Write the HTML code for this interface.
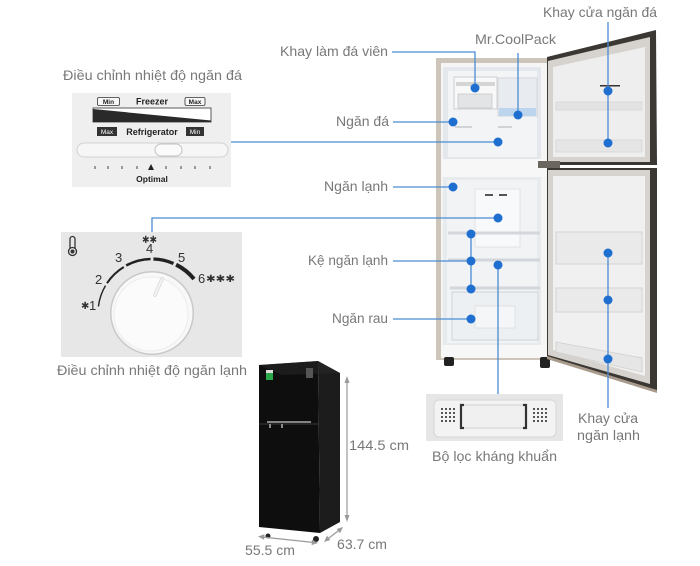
<!DOCTYPE html>
<html><head><meta charset="utf-8"><style>
html,body{margin:0;padding:0;background:#fff;}
svg{display:block;}
.t{font-family:"Liberation Sans",sans-serif;font-size:14px;fill:#787878;}
.l{stroke:#4a8cd4;stroke-width:1.3;fill:none;}
.d{fill:#1f6fd1;}
.b{font-family:"Liberation Sans",sans-serif;font-weight:bold;fill:#222;}
.n{font-family:"Liberation Sans",sans-serif;font-size:13px;fill:#333;}
.s{font-family:"DejaVu Sans",sans-serif;font-size:10px;fill:#333;}
.g{stroke:#9a9a9a;stroke-width:1.2;fill:none;}
</style></head><body>
<svg width="700" height="566" viewBox="0 0 700 566" xmlns="http://www.w3.org/2000/svg">
<rect width="700" height="566" fill="#fff"/>

<!-- ===== Freezer control panel ===== -->
<rect x="72" y="93" width="159" height="94" fill="#efefef"/>
<rect x="97.5" y="97.5" width="22" height="8" rx="1.5" fill="#f7f7f7" stroke="#333" stroke-width="0.8"/>
<text class="b" x="108.5" y="104" font-size="6.5" text-anchor="middle" font-weight="normal">Min</text>
<text class="b" x="152" y="104.5" font-size="9" text-anchor="middle">Freezer</text>
<rect x="185" y="97.5" width="20" height="8" rx="1.5" fill="#f7f7f7" stroke="#333" stroke-width="0.8"/>
<text class="b" x="195" y="104" font-size="6.5" text-anchor="middle" font-weight="normal">Max</text>
<rect x="93" y="108" width="118" height="14" fill="#fff" stroke="#333" stroke-width="0.8"/>
<polygon points="93,109 211,120.5 211,122 93,122" fill="#2a2a2a"/>
<rect x="97" y="127" width="20" height="9" fill="#333"/>
<text x="107" y="134" font-size="6.5" text-anchor="middle" fill="#fff" font-family="Liberation Sans,sans-serif">Max</text>
<text class="b" x="152" y="135" font-size="9" text-anchor="middle">Refrigerator</text>
<rect x="186" y="127" width="18" height="9" fill="#333"/>
<text x="195" y="134" font-size="6.5" text-anchor="middle" fill="#fff" font-family="Liberation Sans,sans-serif">Min</text>
<rect x="77" y="143" width="151" height="14" rx="7" fill="#f6f6f6" stroke="#d2d2d2"/>
<rect x="155" y="144" width="27" height="12" rx="6" fill="#fbfbfb" stroke="#c2c2c2"/>
<g stroke="#444" stroke-width="1">
<line x1="95" y1="166" x2="95" y2="169"/><line x1="108" y1="166" x2="108" y2="169"/>
<line x1="122" y1="166" x2="122" y2="169"/><line x1="137" y1="166" x2="137" y2="169"/>
<line x1="166" y1="166" x2="166" y2="169"/><line x1="181" y1="166" x2="181" y2="169"/>
<line x1="195" y1="166" x2="195" y2="169"/><line x1="210" y1="166" x2="210" y2="169"/>
</g>
<polygon points="148,170 154,170 151,164" fill="#222"/>
<text class="b" x="152" y="182" font-size="8.5" text-anchor="middle">Optimal</text>

<!-- ===== Dial panel ===== -->
<rect x="61" y="232" width="181" height="125" fill="#e7e7e7"/>
<g fill="none" stroke="#333" stroke-width="1.3">
<path d="M70,248 V239 a2.5,2.5 0 0 1 5,0 V248"/>
<circle cx="72.5" cy="251.5" r="4"/>
</g>
<circle cx="72.5" cy="251.5" r="2" fill="#333"/>
<g fill="none" stroke="#222" stroke-linecap="butt">
<path d="M98.4,306.4 A54,54 0 0 1 105.5,285.6" stroke-width="1.4"/>
<path d="M107,283.2 A54,54 0 0 1 123.8,267" stroke-width="2"/>
<path d="M126.2,265.5 A54,54 0 0 1 150.6,259" stroke-width="2.6"/>
<path d="M153.4,259 A54,54 0 0 1 173.5,263.5" stroke-width="3.2"/>
<path d="M176.1,264.7 A54,54 0 0 1 194,279" stroke-width="4"/>
</g>
<circle cx="152" cy="313" r="42" fill="#c9c9c9"/>
<circle cx="152" cy="313" r="40.5" fill="#f8f8f8"/>
<circle cx="151" cy="314" r="37" fill="#fbfbfb" stroke="#ececec"/>
<line x1="162" y1="279" x2="155" y2="295" stroke="#d8d8d8" stroke-width="3.5" stroke-linecap="round"/>
<line x1="162" y1="279" x2="155" y2="295" stroke="#f4f4f4" stroke-width="2" stroke-linecap="round"/>
<text class="s" x="81" y="309">✱</text><text class="n" x="89" y="310">1</text>
<text class="n" x="95" y="284">2</text>
<text class="n" x="115" y="262">3</text>
<text class="n" x="146" y="253">4</text>
<text class="s" x="142" y="243" textLength="15" lengthAdjust="spacingAndGlyphs">✱✱</text>
<text class="n" x="178" y="262">5</text>
<text class="n" x="198" y="283">6</text>
<text class="s" x="206" y="282" textLength="29" lengthAdjust="spacingAndGlyphs">✱✱✱</text>

<!-- ===== Open fridge ===== -->
<rect x="436" y="58" width="112" height="302" fill="#cdc5ba"/>
<rect x="441" y="63" width="106" height="295" fill="#f5f5f5"/>
<rect x="443" y="67" width="98" height="92" fill="#e4e7eb"/>
<rect x="448" y="71" width="89" height="86" fill="#f2f4f6"/>
<rect x="454" y="77" width="43" height="32" fill="#f8f8f8" stroke="#cfcfcf"/>
<rect x="456" y="82" width="39" height="4" fill="#d5d5d5"/>
<rect x="458" y="94" width="34" height="14" fill="#e2e4e6" stroke="#bbb" stroke-width="0.6"/>
<rect x="498" y="78" width="39" height="38" fill="#e8ecf0" stroke="#d4d8dc"/>
<rect x="499" y="108" width="37" height="8" fill="#bcd5ec"/>
<line x1="455" y1="127" x2="472" y2="127" stroke="#c6c9cc" stroke-width="1.5"/>
<line x1="498" y1="127" x2="512" y2="127" stroke="#c6c9cc" stroke-width="1.5"/>
<rect x="441" y="159" width="106" height="18" fill="#f7f7f7"/>
<rect x="443" y="177" width="98" height="168" fill="#e8ebee"/>
<rect x="447" y="180" width="90" height="163" fill="#f1f3f5"/>
<rect x="475" y="189" width="45" height="58" fill="#f8f9fa" stroke="#dcdfe2" stroke-width="0.8"/>
<rect x="485" y="194" width="8" height="2" fill="#555"/><rect x="499" y="194" width="8" height="2" fill="#555"/>
<line x1="448" y1="233" x2="540" y2="233" stroke="#d3d7db" stroke-width="3"/>
<line x1="448" y1="260" x2="540" y2="260" stroke="#d3d7db" stroke-width="3"/>
<line x1="450" y1="288" x2="540" y2="288" stroke="#d3d7db" stroke-width="3"/>
<rect x="452" y="292" width="86" height="48" fill="#edf0f2" stroke="#cfd3d7"/>
<rect x="475" y="306" width="40" height="22" fill="#f5f6f7" stroke="#d8dbde" stroke-width="0.7"/>
<rect x="441" y="345" width="106" height="13" fill="#f7f7f7"/>
<rect x="444" y="357" width="10" height="9" rx="2" fill="#222"/>
<rect x="540" y="357" width="10" height="11" rx="2" fill="#222"/>
<!-- top door -->
<polygon points="547,57 656,30 657,165 547,165" fill="#3b3733"/>
<polygon points="548,61 650,37 650,162 548,162" fill="#d6d2cd"/>
<polygon points="553,67 645,47 645,157 553,157" fill="#eeeeee"/>
<rect x="556" y="102" width="86" height="8" fill="#e3e3e3" stroke="#d0d0d0" stroke-width="0.6"/>
<rect x="556" y="140" width="86" height="12" fill="#e5e5e5" stroke="#d0d0d0" stroke-width="0.6"/>
<rect x="600" y="85" width="20" height="1.5" fill="#333"/>
<rect x="538" y="161" width="22" height="7" fill="#6b6660"/>
<!-- bottom door -->
<polygon points="547,168 657,168 657,392 547,358" fill="#3b3733"/>
<polygon points="548,170 650,170 650,384 548,355" fill="#d6d2cd"/>
<polygon points="553,176 645,176 645,376 553,350" fill="#f0f0f0"/>
<rect x="556" y="232" width="86" height="32" fill="#eaeaea" stroke="#cfcfcf" stroke-width="0.8"/>
<rect x="556" y="288" width="86" height="24" fill="#eaeaea" stroke="#cfcfcf" stroke-width="0.8"/>
<polygon points="556,342 642,358 642,372 556,352" fill="#e6e6e6" stroke="#cfcfcf" stroke-width="0.8"/>
<polygon points="547,356 657,390 657,393 547,359" fill="#a99b8c"/>

<!-- ===== Filter ===== -->
<rect x="426" y="394" width="137" height="47" fill="#e6e6e6"/>
<rect x="434" y="400" width="122" height="37" rx="5" fill="#f3f3f3" stroke="#d6d6d6"/>
<g fill="#555">
<rect x="441" y="408" width="2" height="2"/><rect x="445" y="408" width="2" height="2"/><rect x="449" y="408" width="2" height="2"/><rect x="453" y="408" width="2" height="2"/>
<rect x="441" y="412" width="2" height="2"/><rect x="445" y="412" width="2" height="2"/><rect x="449" y="412" width="2" height="2"/><rect x="453" y="412" width="2" height="2"/>
<rect x="441" y="416" width="2" height="2"/><rect x="445" y="416" width="2" height="2"/><rect x="449" y="416" width="2" height="2"/><rect x="453" y="416" width="2" height="2"/>
<rect x="441" y="420" width="2" height="2"/><rect x="445" y="420" width="2" height="2"/><rect x="449" y="420" width="2" height="2"/><rect x="453" y="420" width="2" height="2"/>
<rect x="533" y="408" width="2" height="2"/><rect x="537" y="408" width="2" height="2"/><rect x="541" y="408" width="2" height="2"/><rect x="545" y="408" width="2" height="2"/>
<rect x="533" y="412" width="2" height="2"/><rect x="537" y="412" width="2" height="2"/><rect x="541" y="412" width="2" height="2"/><rect x="545" y="412" width="2" height="2"/>
<rect x="533" y="416" width="2" height="2"/><rect x="537" y="416" width="2" height="2"/><rect x="541" y="416" width="2" height="2"/><rect x="545" y="416" width="2" height="2"/>
<rect x="533" y="420" width="2" height="2"/><rect x="537" y="420" width="2" height="2"/><rect x="541" y="420" width="2" height="2"/><rect x="545" y="420" width="2" height="2"/>
</g>
<rect x="461" y="405" width="65" height="23" rx="2" fill="#f0f0f0" stroke="#cfcfcf"/>
<path d="M464,405 h-3 v23 h3" stroke="#333" stroke-width="2.2" fill="none"/>
<path d="M523,405 h3 v23 h-3" stroke="#333" stroke-width="2.2" fill="none"/>

<!-- ===== Black fridge ===== -->
<polygon points="318,361 340,373 340,522 320,533" fill="#1c1c1c"/>
<polygon points="259,365 318,361 320,533 259,527" fill="#0e0e0e"/>
<polygon points="259,365 318,361 340,373 282,375" fill="#2a2a2a" opacity="0.5"/>
<line x1="259" y1="424" x2="319" y2="424" stroke="#3a3a3a" stroke-width="1"/>
<line x1="267" y1="422" x2="311" y2="422" stroke="#aaa" stroke-width="1.4"/>
<rect x="269" y="424" width="2" height="4" fill="#888"/><rect x="281" y="424" width="2" height="4" fill="#888"/>
<rect x="266" y="370" width="7" height="10" fill="#2aa84a"/>
<rect x="266" y="370" width="7" height="3" fill="#ddd"/>
<rect x="306" y="368" width="7" height="10" fill="#555"/>
<circle cx="268" cy="536" r="2.5" fill="#222"/>
<circle cx="316" cy="539" r="3" fill="#222"/>
<line class="g" x1="347" y1="380" x2="347" y2="518"/>
<polygon points="347,376 344.5,383 349.5,383" fill="#9a9a9a"/>
<polygon points="347,522 344.5,515 349.5,515" fill="#9a9a9a"/>
<line class="g" x1="262" y1="537" x2="314" y2="542.5"/>
<polygon points="258,536.5 264.5,534.3 264,539.8" fill="#9a9a9a"/>
<polygon points="318,543 311.6,545.1 312,539.6" fill="#9a9a9a"/>
<line class="g" x1="327" y1="539.5" x2="340" y2="529.5"/>
<polygon points="324,542 327,535.8 330.3,540" fill="#9a9a9a"/>
<polygon points="343,527 340,533.2 336.7,529" fill="#9a9a9a"/>

<!-- ===== Callout lines ===== -->
<path class="l" d="M392,52 H475 V88"/>
<path class="l" d="M518,53 V115"/>
<path class="l" d="M608,22 V143"/>
<path class="l" d="M393,122 H453"/>
<path class="l" d="M231,142 H498"/>
<path class="l" d="M393,187 H453"/>
<path class="l" d="M152,232 V218 H498"/>
<path class="l" d="M393,261 H471"/>
<path class="l" d="M471,234 V289"/>
<path class="l" d="M498,265 V394"/>
<path class="l" d="M393,319 H471"/>
<path class="l" d="M608,253 V408"/>
<g class="d">
<circle cx="475" cy="88" r="4.5"/><circle cx="518" cy="115" r="4.5"/>
<circle cx="608" cy="91" r="4.5"/><circle cx="608" cy="143" r="4.5"/>
<circle cx="453" cy="122" r="4.5"/><circle cx="498" cy="142" r="4.5"/>
<circle cx="453" cy="187" r="4.5"/><circle cx="498" cy="218" r="4.5"/>
<circle cx="471" cy="234" r="4.5"/><circle cx="471" cy="261" r="4.5"/><circle cx="471" cy="289" r="4.5"/>
<circle cx="498" cy="265" r="4.5"/><circle cx="471" cy="319" r="4.5"/>
<circle cx="608" cy="253" r="4.5"/><circle cx="608" cy="300" r="4.5"/><circle cx="608" cy="359" r="4.5"/>
</g>

<!-- ===== Labels ===== -->
<text class="t" x="543" y="17" textLength="114" lengthAdjust="spacingAndGlyphs">Khay cửa ngăn đá</text>
<text class="t" x="475" y="44" textLength="81" lengthAdjust="spacingAndGlyphs">Mr.CoolPack</text>
<text class="t" x="280" y="56" textLength="108" lengthAdjust="spacingAndGlyphs">Khay làm đá viên</text>
<text class="t" x="63" y="80" textLength="179" lengthAdjust="spacingAndGlyphs">Điều chỉnh nhiệt độ ngăn đá</text>
<text class="t" x="336" y="126" textLength="53" lengthAdjust="spacingAndGlyphs">Ngăn đá</text>
<text class="t" x="324" y="191" textLength="64" lengthAdjust="spacingAndGlyphs">Ngăn lạnh</text>
<text class="t" x="308" y="265" textLength="80" lengthAdjust="spacingAndGlyphs">Kệ ngăn lạnh</text>
<text class="t" x="332" y="323" textLength="56" lengthAdjust="spacingAndGlyphs">Ngăn rau</text>
<text class="t" x="57" y="375" textLength="190" lengthAdjust="spacingAndGlyphs">Điều chỉnh nhiệt độ ngăn lạnh</text>
<text class="t" x="432" y="461" textLength="125" lengthAdjust="spacingAndGlyphs">Bộ lọc kháng khuẩn</text>
<text class="t" x="578" y="423" textLength="60" lengthAdjust="spacingAndGlyphs">Khay cửa</text>
<text class="t" x="577" y="440" textLength="63" lengthAdjust="spacingAndGlyphs">ngăn lạnh</text>
<text class="t" x="349" y="450" textLength="60" lengthAdjust="spacingAndGlyphs">144.5 cm</text>
<text class="t" x="245" y="555" textLength="50" lengthAdjust="spacingAndGlyphs">55.5 cm</text>
<text class="t" x="337" y="549" textLength="50" lengthAdjust="spacingAndGlyphs">63.7 cm</text>
</svg>
</body></html>
